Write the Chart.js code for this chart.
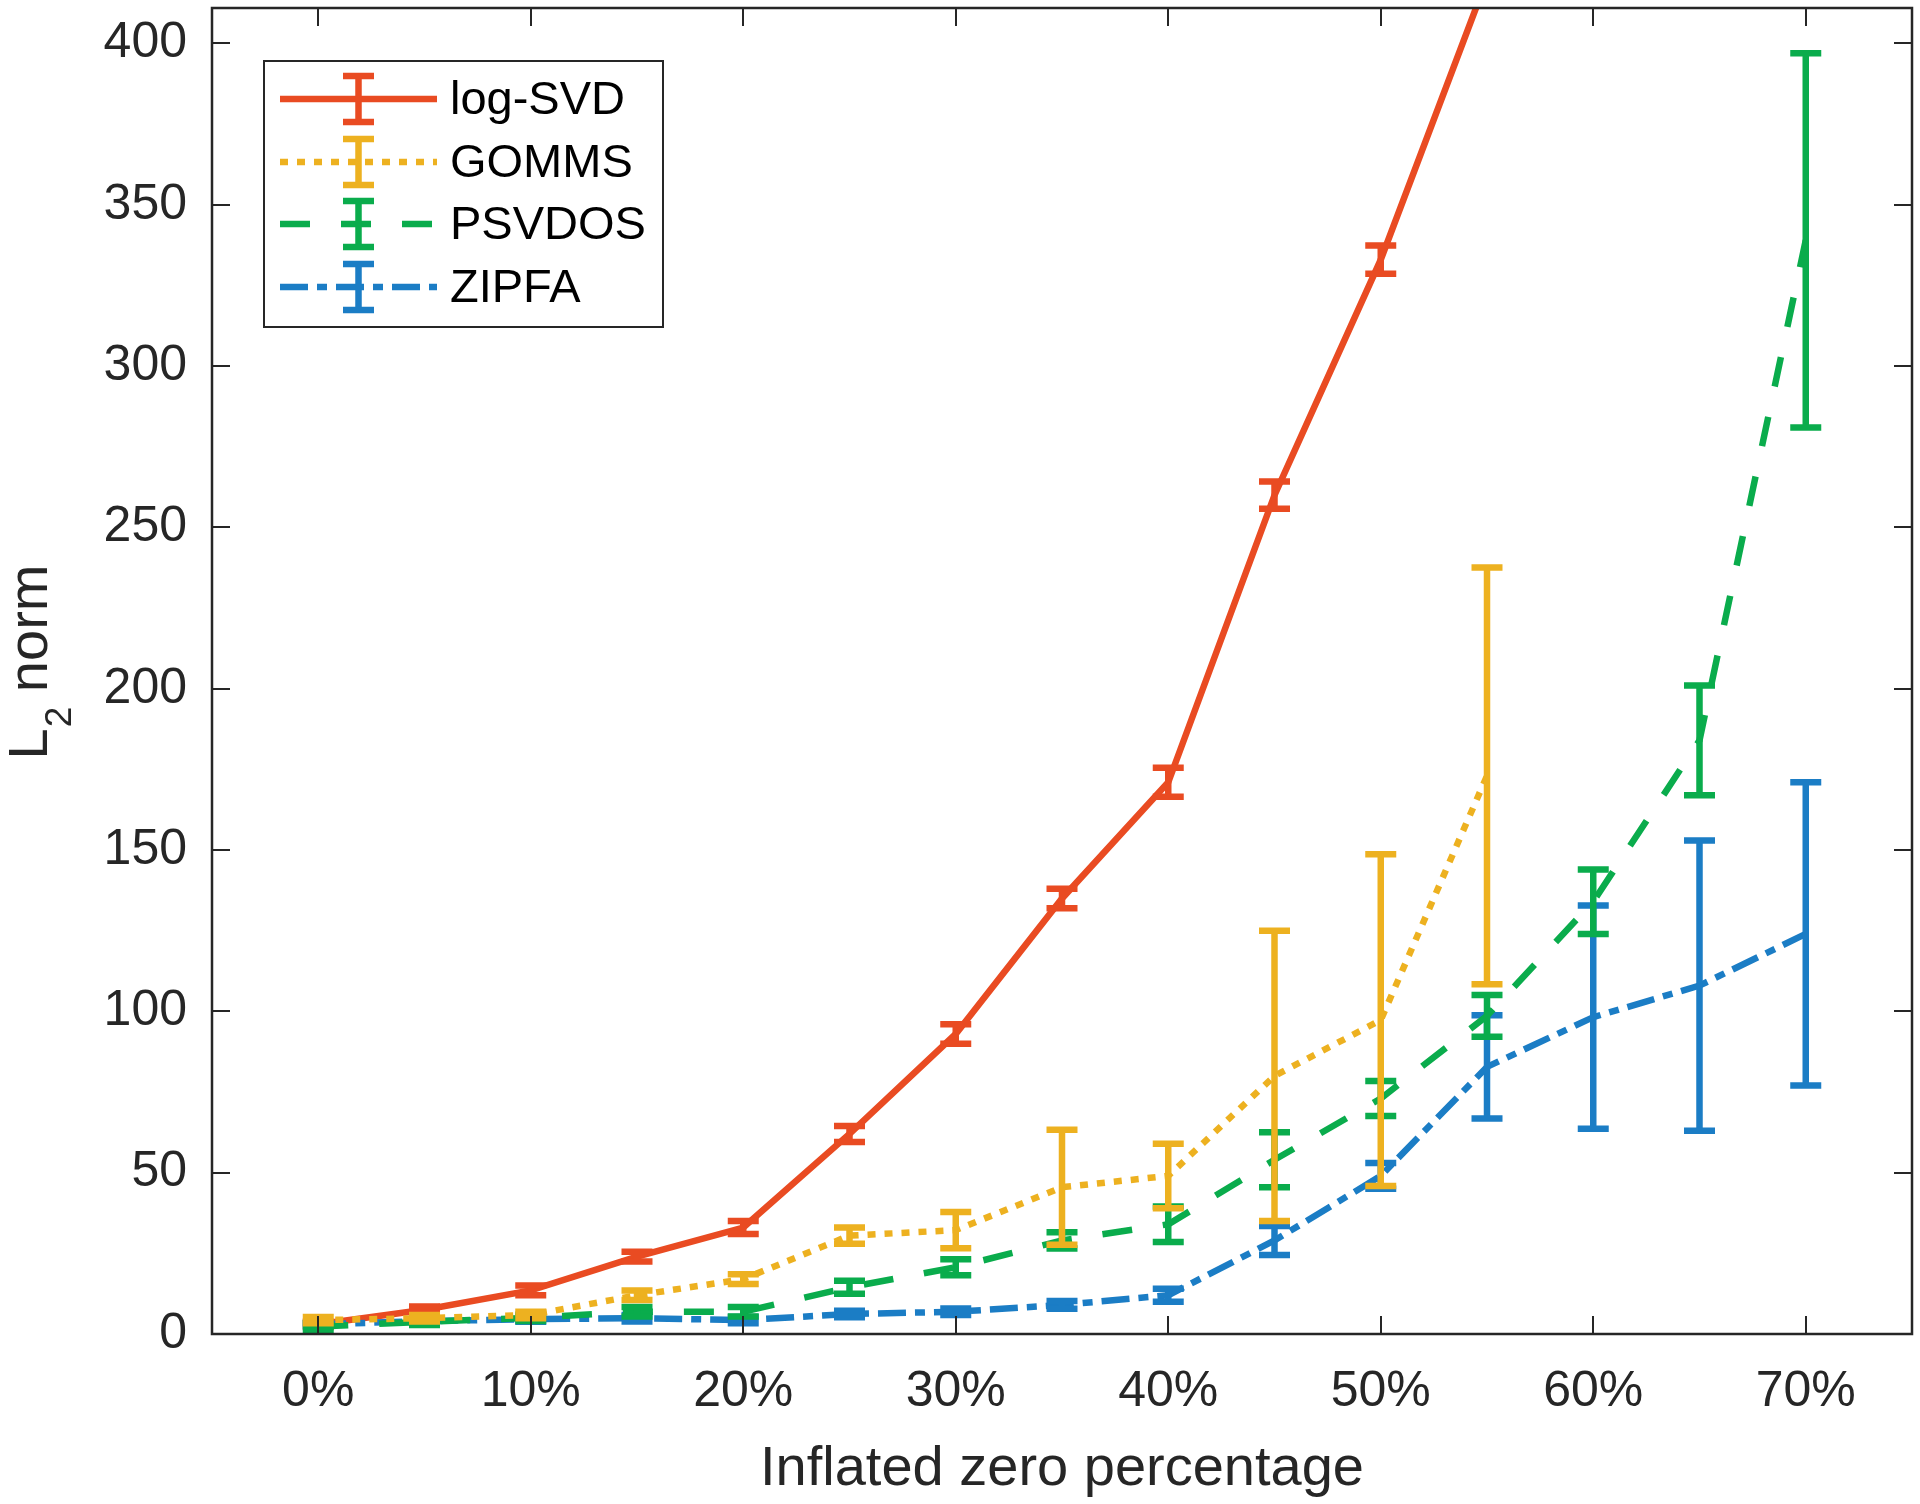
<!DOCTYPE html>
<html>
<head>
<meta charset="utf-8">
<script src="https://cdn.jsdelivr.net/npm/chart.js@4.4.1/dist/chart.umd.min.js"></script>
<style>
  html, body { margin: 0; padding: 0; background: #fff; }
  #wrap { width: 1920px; height: 1504px; }
</style>
</head>
<body>
<div id="wrap"><canvas id="chart" width="1920" height="1504"></canvas></div>
<script>
// inflated zero percentage (x) and tick values
const zeroPct = [0, 5, 10, 15, 20, 25, 30, 35, 40, 45, 50, 55, 60, 65, 70];
const xTicks = [0, 10, 20, 30, 40, 50, 60, 70];
const yTicks = [0, 50, 100, 150, 200, 250, 300, 350, 400];

// L2 norm means and error bar half widths
const logSvd    = [3, 7.5, 13.5, 24, 33, 62, 93, 135, 171, 260, 333, 420, 540, 680, 850];
const logSvdErr = [0.8, 1, 1.5, 1.5, 2, 2.5, 3, 3, 4.5, 4.2, 4.4, 6, 8, 10, 12];
const gomms     = [4.3, 4.9, 5.9, 12, 17, 30.5, 32.2, 45.5, 49, 80, 97.3, 173, null, null, null];
const gommsErr  = [1, 1, 1, 1.5, 1.5, 2.5, 5.6, 17.8, 10, 45, 51.4, 64.6, null, null, null];
const psvdos    = [2.3, 3.8, 5, 6.9, 6.9, 14.5, 20.7, 29, 34, 54, 73, 98.6, 134, 184, 339];
const psvdosErr = [1, 1, 1, 1.5, 1.5, 2, 2.5, 2.5, 5.5, 8.5, 5.4, 6.5, 10, 17, 58];
const zipfa     = [3, 4, 4.6, 4.9, 4.3, 6.2, 6.9, 9, 12, 29, 49, 82.8, 98.2, 108, 124];
const zipfaErr  = [0.5, 0.5, 0.8, 1, 1, 1, 1, 1.2, 2, 4.5, 4, 16, 34.6, 45, 47];

const FONT = '"Liberation Sans", Arial, Helvetica, sans-serif';
const AXIS = '#262626';

function pts(vals) {
    return zeroPct.map((x, i) => ({ x: x, y: vals[i] }));
}

const errs = [logSvdErr, gommsErr, psvdosErr, zipfaErr];

const datasets = [
    { label: 'log-SVD', data: pts(logSvd), borderColor: '#E94B22', borderDash: [], order: 4 },
    { label: 'GOMMS', data: pts(gomms), borderColor: '#EDB120', borderDash: [8, 9], order: 1 },
    { label: 'PSVDOS', data: pts(psvdos), borderColor: '#0AAC4C', borderDash: [30, 31], order: 2 },
    { label: 'ZIPFA', data: pts(zipfa), borderColor: '#1B7DC5', borderDash: [28, 9, 10, 9], order: 3 }
].map(d => Object.assign(d, {
    borderWidth: 6.5, pointRadius: 0, tension: 0, fill: false, spanGaps: false
}));

// vertical error bars with caps, drawn right after each line
const errorBars = {
    id: 'errorBars',
    afterDatasetDraw(chart, args) {
        const ds = chart.data.datasets[args.index];
        const e = errs[args.index];
        const { ctx, chartArea: a } = chart;
        const xs = chart.scales.x, ys = chart.scales.y;
        ctx.save();
        ctx.beginPath();
        ctx.rect(a.left, a.top, a.right - a.left, a.bottom - a.top);
        ctx.clip();
        ctx.strokeStyle = ds.borderColor;
        ctx.lineWidth = 6.5;
        ctx.setLineDash([]);
        ds.data.forEach((p, i) => {
            if (p.y == null || e[i] == null) return;
            const px = xs.getPixelForValue(p.x);
            const top = ys.getPixelForValue(p.y + e[i]);
            const bot = ys.getPixelForValue(p.y - e[i]);
            ctx.beginPath();
            ctx.moveTo(px, top); ctx.lineTo(px, bot);
            ctx.moveTo(px - 15.5, top); ctx.lineTo(px + 15.5, top);
            ctx.moveTo(px - 15.5, bot); ctx.lineTo(px + 15.5, bot);
            ctx.stroke();
        });
        ctx.restore();
    }
};

// matlab style box with inward ticks on all four sides
const axesBox = {
    id: 'axesBox',
    afterDatasetsDraw(chart) {
        const { ctx, chartArea: a } = chart;
        const xs = chart.scales.x, ys = chart.scales.y;
        ctx.save();
        ctx.strokeStyle = AXIS;
        ctx.lineWidth = 2;
        ctx.setLineDash([]);
        ctx.beginPath();
        xs.ticks.forEach(t => {
            const px = Math.round(xs.getPixelForValue(t.value));
            ctx.moveTo(px, a.bottom); ctx.lineTo(px, a.bottom - 18);
            ctx.moveTo(px, a.top); ctx.lineTo(px, a.top + 18);
        });
        ys.ticks.forEach(t => {
            const py = Math.round(ys.getPixelForValue(t.value));
            ctx.moveTo(a.left, py); ctx.lineTo(a.left + 18, py);
            ctx.moveTo(a.right, py); ctx.lineTo(a.right - 18, py);
        });
        ctx.stroke();
        ctx.lineWidth = 2.5;
        ctx.strokeRect(a.left, a.top, a.right - a.left, a.bottom - a.top);
        ctx.restore();
    }
};

// axis titles and the legend box
const labelsAndLegend = {
    id: 'labelsAndLegend',
    afterDraw(chart) {
        const { ctx, chartArea: a } = chart;
        ctx.save();
        ctx.fillStyle = AXIS;

        // x title
        ctx.font = '56px ' + FONT;
        ctx.textAlign = 'center';
        ctx.textBaseline = 'alphabetic';
        ctx.fillText('Inflated zero percentage', (a.left + a.right) / 2, 1485);

        // y title with subscript
        ctx.save();
        ctx.translate(47, 662);
        ctx.rotate(-Math.PI / 2);
        ctx.textAlign = 'left';
        ctx.font = '56px ' + FONT;
        const wL = ctx.measureText('L').width;
        const wN = ctx.measureText(' norm').width;
        ctx.font = '37px ' + FONT;
        const w2 = ctx.measureText('2').width;
        let sx = -(wL + w2 + wN) / 2;
        ctx.font = '56px ' + FONT;
        ctx.fillText('L', sx, 0);
        ctx.font = '37px ' + FONT;
        ctx.fillText('2', sx + wL + 1, 24);
        ctx.font = '56px ' + FONT;
        ctx.fillText(' norm', sx + wL + w2, 0);
        ctx.restore();

        // legend
        const bx = 264, by = 61, bw = 399, bh = 266;
        ctx.fillStyle = '#fff';
        ctx.fillRect(bx, by, bw, bh);
        ctx.strokeStyle = AXIS;
        ctx.lineWidth = 2;
        ctx.setLineDash([]);
        ctx.strokeRect(bx, by, bw, bh);
        const rowY = [99, 162, 224, 287];
        chart.data.datasets.forEach((ds, i) => {
            const y = rowY[i];
            ctx.strokeStyle = ds.borderColor;
            ctx.lineWidth = 6.5;
            ctx.setLineDash(ds.borderDash);
            ctx.beginPath();
            ctx.moveTo(280, y); ctx.lineTo(437, y);
            ctx.stroke();
            ctx.setLineDash([]);
            ctx.beginPath();
            ctx.moveTo(358.5, y - 23); ctx.lineTo(358.5, y + 23);
            ctx.moveTo(343, y - 23); ctx.lineTo(374, y - 23);
            ctx.moveTo(343, y + 23); ctx.lineTo(374, y + 23);
            ctx.stroke();
            ctx.fillStyle = '#000';
            ctx.font = '47px ' + FONT;
            ctx.textAlign = 'left';
            ctx.textBaseline = 'middle';
            ctx.fillText(ds.label, 450, y + 2);
        });
        ctx.restore();
    }
};

new Chart(document.getElementById('chart').getContext('2d'), {
    type: 'line',
    data: { datasets: datasets },
    options: {
        responsive: false,
        devicePixelRatio: 1,
        animation: false,
        layout: { padding: { top: 8, right: 8, left: 0, bottom: 0 } },
        plugins: { legend: { display: false }, tooltip: { enabled: false } },
        scales: {
            x: {
                type: 'linear',
                min: -5,
                max: 75,
                afterBuildTicks: s => { s.ticks = xTicks.map(v => ({ value: v })); },
                afterFit: s => {
                    s.height = 170;
                    s.paddingLeft = 0; s.paddingRight = 0;
                },
                grid: { display: false, drawTicks: false },
                border: { display: false },
                ticks: {
                    padding: 28,
                    color: AXIS,
                    font: { family: FONT, size: 50 },
                    maxRotation: 0,
                    callback: v => v + '%'
                }
            },
            y: {
                type: 'linear',
                min: 0,
                max: 411,
                afterBuildTicks: s => { s.ticks = yTicks.map(v => ({ value: v })); },
                afterFit: s => {
                    s.width = 212;
                    s.paddingTop = 0; s.paddingBottom = 0;
                },
                grid: { display: false, drawTicks: false },
                border: { display: false },
                ticks: {
                    padding: 25,
                    color: AXIS,
                    font: { family: FONT, size: 50 }
                }
            }
        }
    },
    plugins: [errorBars, axesBox, labelsAndLegend]
});
</script>
</body>
</html>
